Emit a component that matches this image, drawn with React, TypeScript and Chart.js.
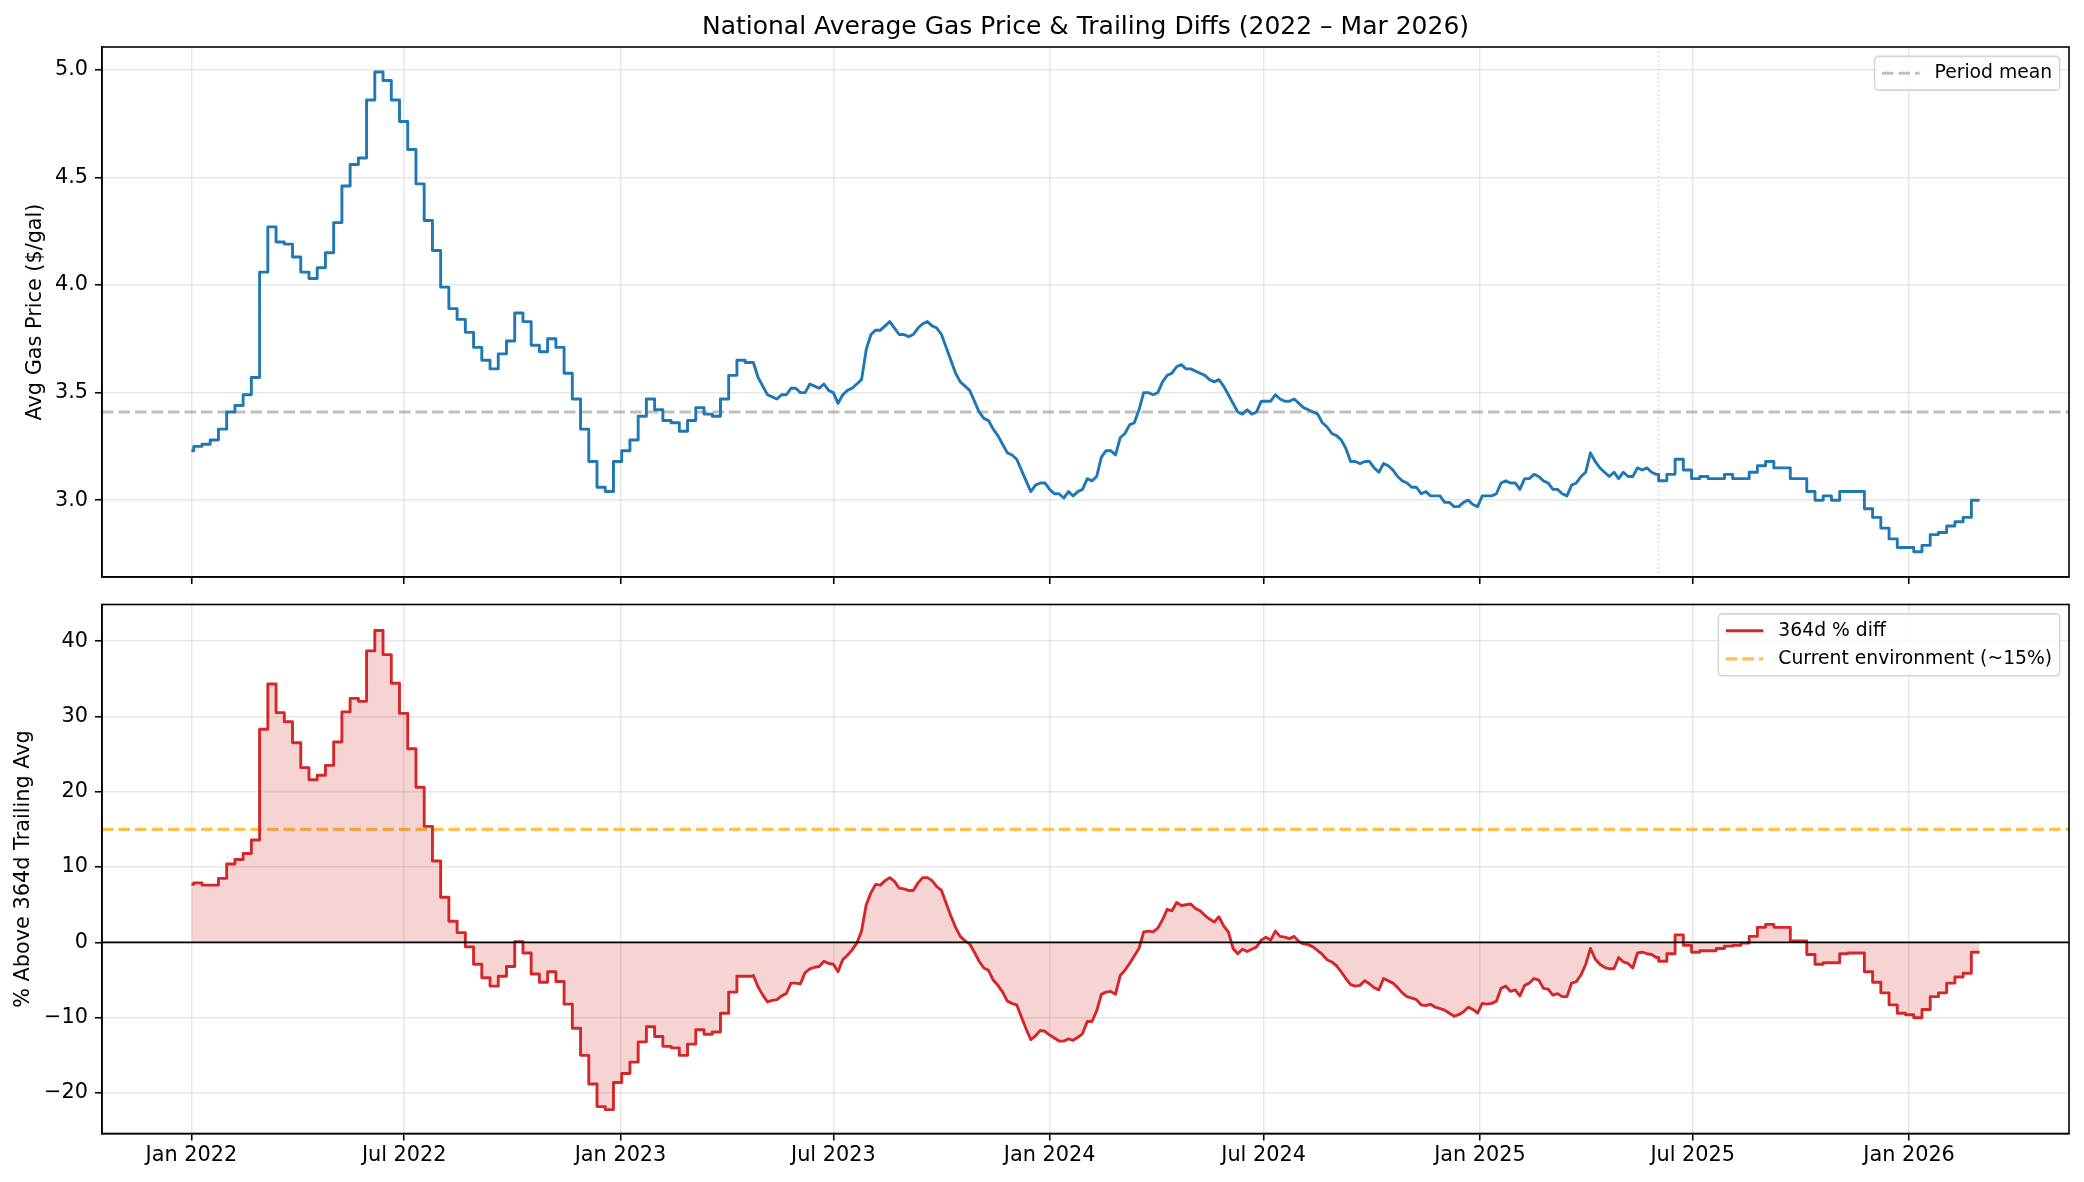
import { useEffect, useRef } from "react"
import { Chart, registerables } from "chart.js"

Chart.register(...registerables)

const FONT = "'DejaVu Sans', sans-serif"
const GRID = "rgba(176, 176, 176, 0.3)"

// x axis ticks
const tickDates = [
  "2022-01-01", "2022-07-01", "2023-01-01", "2023-07-01", "2024-01-01",
  "2024-07-01", "2025-01-01", "2025-07-01", "2026-01-01",
]
const tickLabels = [
  "Jan 2022", "Jul 2022", "Jan 2023", "Jul 2023", "Jan 2024",
  "Jul 2024", "Jan 2025", "Jul 2025", "Jan 2026",
]

// sampling of the series: first value on Jan 1 2022, then weekly (Mondays) until Apr 2023,
// every 4 days until end of May 2025, weekly again from Jun 2 2025
const firstDate = "2022-01-01"
const weeklyStart2022 = "2022-01-03"
const midStart = "2023-04-24"
const midStepDays = 4
const weeklyStart2025 = "2025-06-02"

// avg gas price ($/gal)
const priceEarly = [
  3.23, 3.25, 3.26, 3.28, 3.33, 3.41, 3.44, 3.49, 3.57, 4.06,
  4.27, 4.20, 4.19, 4.13, 4.06, 4.03, 4.08, 4.15, 4.29, 4.46,
  4.56, 4.59, 4.86, 4.99, 4.95, 4.86, 4.76, 4.63, 4.47, 4.30,
  4.16, 3.99, 3.89, 3.84, 3.78, 3.71, 3.65, 3.61, 3.68, 3.74,
  3.87, 3.83, 3.72, 3.69, 3.75, 3.71, 3.59, 3.47, 3.33, 3.18,
  3.06, 3.04, 3.18, 3.23, 3.28, 3.39, 3.47, 3.42, 3.37, 3.36,
  3.32, 3.37, 3.43, 3.40, 3.39, 3.47, 3.58, 3.65, 3.64,
]
const priceMid = [
  3.64, 3.57, 3.53, 3.49, 3.48, 3.47, 3.49, 3.49, 3.52, 3.52,
  3.50, 3.50, 3.54, 3.53, 3.52, 3.54, 3.51, 3.50, 3.45, 3.49,
  3.51, 3.52, 3.54, 3.56, 3.70, 3.77, 3.79, 3.79, 3.81, 3.83,
  3.80, 3.77, 3.77, 3.76, 3.77, 3.80, 3.82, 3.83, 3.81, 3.80,
  3.77, 3.71, 3.65, 3.59, 3.55, 3.53, 3.51, 3.46, 3.41, 3.38,
  3.37, 3.33, 3.30, 3.26, 3.22, 3.21, 3.19, 3.14, 3.09, 3.04,
  3.07, 3.08, 3.08, 3.05, 3.03, 3.03, 3.01, 3.04, 3.02, 3.04,
  3.05, 3.10, 3.09, 3.11, 3.20, 3.23, 3.23, 3.21, 3.29, 3.31,
  3.35, 3.36, 3.42, 3.50, 3.50, 3.49, 3.50, 3.55, 3.58, 3.59,
  3.62, 3.63, 3.61, 3.61, 3.60, 3.59, 3.58, 3.56, 3.55, 3.56,
  3.53, 3.49, 3.45, 3.41, 3.40, 3.42, 3.40, 3.41, 3.46, 3.46,
  3.46, 3.49, 3.47, 3.46, 3.46, 3.47, 3.45, 3.43, 3.42, 3.41,
  3.40, 3.36, 3.34, 3.31, 3.30, 3.28, 3.24, 3.18, 3.18, 3.17,
  3.18, 3.18, 3.15, 3.13, 3.17, 3.16, 3.14, 3.11, 3.09, 3.08,
  3.06, 3.06, 3.03, 3.04, 3.02, 3.02, 3.02, 2.99, 2.99, 2.97,
  2.97, 2.99, 3.00, 2.98, 2.97, 3.02, 3.02, 3.02, 3.03, 3.08,
  3.09, 3.08, 3.08, 3.05, 3.10, 3.10, 3.12, 3.11, 3.09, 3.08,
  3.05, 3.05, 3.03, 3.02, 3.07, 3.08, 3.11, 3.13, 3.22, 3.18,
  3.15, 3.13, 3.11, 3.13, 3.10, 3.13, 3.11, 3.11, 3.15, 3.14,
  3.15, 3.13, 3.12,
]
const priceLate = [
  3.09, 3.12, 3.19, 3.14, 3.10, 3.11, 3.10, 3.10, 3.12, 3.10,
  3.10, 3.13, 3.16, 3.18, 3.15, 3.15, 3.10, 3.10, 3.04, 3.00,
  3.02, 3.00, 3.04, 3.04, 3.04, 2.96, 2.92, 2.87, 2.82, 2.78,
  2.78, 2.76, 2.79, 2.84, 2.85, 2.88, 2.90, 2.92, 3.00, 3.00,
]

// % above 364d trailing average
const diffEarly = [
  7.7, 7.9, 7.6, 7.6, 8.5, 10.4, 11.0, 11.8, 13.6, 28.3,
  34.3, 30.5, 29.3, 26.5, 23.2, 21.6, 22.2, 23.5, 26.6, 30.6,
  32.4, 32.0, 38.7, 41.4, 38.2, 34.4, 30.4, 25.7, 20.6, 15.4,
  10.8, 6.0, 2.8, 1.3, -0.6, -2.9, -4.7, -5.8, -4.5, -3.2,
  0.1, -1.4, -4.2, -5.3, -3.9, -5.2, -8.2, -11.4, -15.0, -18.8,
  -21.8, -22.2, -18.6, -17.4, -15.9, -13.2, -11.2, -12.5, -13.8, -14.0,
  -15.0, -13.5, -11.6, -12.2, -11.9, -9.4, -6.6, -4.5, -4.5,
]
const diffMid = [
  -4.4, -5.9, -7.0, -7.9, -7.7, -7.6, -7.1, -6.8, -5.4, -5.4,
  -5.5, -4.0, -3.5, -3.3, -3.2, -2.5, -2.8, -2.9, -3.9, -2.3,
  -1.7, -1.0, -0.1, 1.5, 5.0, 6.6, 7.7, 7.6, 8.2, 8.6,
  8.1, 7.2, 7.1, 6.9, 6.9, 7.9, 8.6, 8.6, 8.2, 7.4,
  6.9, 5.2, 3.5, 2.0, 0.8, 0.2, -0.2, -1.3, -2.5, -3.4,
  -3.7, -5.0, -5.7, -6.6, -7.8, -8.1, -8.3, -9.9, -11.5, -12.9,
  -12.4, -11.7, -11.8, -12.3, -12.7, -13.1, -13.1, -12.8, -13.0, -12.6,
  -12.1, -10.5, -10.5, -9.1, -6.9, -6.6, -6.5, -6.9, -4.4, -3.7,
  -2.8, -1.8, -0.8, 1.4, 1.5, 1.4, 1.9, 3.0, 4.4, 4.2,
  5.3, 4.9, 5.0, 5.1, 4.5, 4.2, 3.6, 3.1, 2.7, 3.4,
  2.2, 1.4, -0.8, -1.5, -0.9, -1.2, -0.9, -0.6, 0.3, 0.7,
  0.3, 1.5, 0.8, 0.7, 0.5, 0.8, 0.1, -0.2, -0.3, -0.6,
  -1.1, -1.6, -2.3, -2.6, -3.1, -3.9, -4.8, -5.6, -5.8, -5.7,
  -5.1, -5.5, -6.0, -6.3, -4.8, -5.1, -5.4, -6.0, -6.7, -7.2,
  -7.4, -7.6, -8.3, -8.4, -8.2, -8.6, -8.8, -9.0, -9.4, -9.8,
  -9.6, -9.2, -8.6, -8.9, -9.4, -8.1, -8.2, -8.1, -7.8, -6.1,
  -5.8, -6.5, -6.3, -7.1, -5.7, -5.4, -4.8, -5.0, -6.1, -6.2,
  -7.0, -6.8, -7.2, -7.2, -5.4, -5.2, -4.3, -2.9, -0.8, -2.2,
  -2.9, -3.3, -3.5, -3.5, -2.0, -2.6, -2.8, -3.4, -1.4, -1.3,
  -1.5, -1.6, -2.0,
]
const diffLate = [
  -2.5, -1.5, 1.0, -0.4, -1.3, -1.1, -1.1, -0.8, -0.5, -0.4,
  -0.1, 0.8, 2.0, 2.4, 2.0, 2.0, 0.2, 0.2, -1.6, -2.9,
  -2.7, -2.7, -1.5, -1.4, -1.4, -3.9, -5.3, -6.7, -8.3, -9.4,
  -9.6, -10.0, -8.9, -7.2, -6.7, -5.4, -4.6, -4.1, -1.3, -1.3,
]

const periodMean = 3.41
const currentEnv = 15
const priceTicks = [3.0, 3.5, 4.0, 4.5, 5.0]
const diffTicks = [-20, -10, 0, 10, 20, 30, 40]
const priceRange = [2.643, 5.106]
const diffRange = [-25.37, 44.86]

const BLUE = "#1f77b4"
const RED = "#d62728"

const dayOf = (iso: string) =>
  Math.round((Date.parse(iso + "T00:00:00Z") - Date.parse(firstDate + "T00:00:00Z")) / 86400000)

const tickDays = tickDates.map(dayOf)
const lastDay = dayOf(weeklyStart2025) + 7 * (priceLate.length - 1)
const xMin = -0.05 * lastDay
const xMax = lastDay * 1.05

type Pt = { x: number; y: number }

// weekly values are held until the next reading (forward fill), so add the corner of each step
function holdSteps(pts: Pt[]) {
  const out: Pt[] = []
  pts.forEach((p, i) => {
    if (i > 0) out.push({ x: p.x, y: pts[i - 1].y })
    out.push(p)
  })
  return out
}

// one continuous series: weekly steps, then 4-day readings, then weekly steps again
function buildSeries(early: number[], mid: number[], late: number[]) {
  const e0 = dayOf(weeklyStart2022)
  const m0 = dayOf(midStart)
  const l0 = dayOf(weeklyStart2025)
  const a = [{ x: 0, y: early[0] }, ...early.slice(1).map((y, i) => ({ x: e0 + 7 * i, y }))]
  const b = mid.map((y, i) => ({ x: m0 + midStepDays * i, y }))
  const c = late.map((y, i) => ({ x: l0 + 7 * i, y }))
  const head = holdSteps([...a, b[0]])
  const tail = holdSteps([b[b.length - 1], ...c])
  return [...head, ...b.slice(1, -1), ...tail]
}

// titles, frame, legend and the dotted marker, drawn like matplotlib does
const decorPlugin = {
  id: "decor",
  beforeDatasetsDraw(chart: any, _args: any, opts: any) {
    if (opts.markerDay == null) return
    const { ctx, chartArea: a, scales } = chart
    const x = scales.x.getPixelForValue(opts.markerDay)
    ctx.save()
    ctx.strokeStyle = "rgba(128,128,128,0.35)"
    ctx.lineWidth = 1.6
    ctx.setLineDash([1.6, 2.7])
    ctx.beginPath()
    ctx.moveTo(x, a.top)
    ctx.lineTo(x, a.bottom)
    ctx.stroke()
    ctx.restore()
  },
  afterDraw(chart: any, _args: any, opts: any) {
    const { ctx, chartArea: a } = chart
    ctx.save()
    ctx.strokeStyle = "#000"
    ctx.lineWidth = 1.6
    ctx.strokeRect(a.left, a.top, a.right - a.left, a.bottom - a.top)

    ctx.fillStyle = "#000"
    if (opts.title) {
      ctx.font = `25px ${FONT}`
      ctx.textAlign = "center"
      ctx.textBaseline = "alphabetic"
      ctx.fillText(opts.title, (a.left + a.right) / 2, a.top - 13.4)
    }
    if (opts.yTitle) {
      ctx.save()
      ctx.font = `20.8px ${FONT}`
      ctx.textAlign = "center"
      ctx.textBaseline = "middle"
      ctx.translate(opts.yTitleX, (a.top + a.bottom) / 2)
      ctx.rotate(-Math.PI / 2)
      ctx.fillText(opts.yTitle, 0, 0)
      ctx.restore()
    }
    const items = opts.legend || []
    if (items.length) {
      const fs = 18.75
      ctx.font = `${fs}px ${FONT}`
      const textW = Math.max(...items.map((it: any) => ctx.measureText(it.label).width))
      const pad = 0.4 * fs
      const handle = 2 * fs
      const gap = 0.8 * fs
      const spacing = 0.5 * fs
      const w = pad * 2 + handle + gap + textW
      const h = pad * 2 + items.length * fs + (items.length - 1) * spacing
      const x = a.right - 0.5 * fs - w
      const y = a.top + 0.5 * fs
      ctx.beginPath()
      ctx.roundRect(x, y, w, h, 0.2 * fs)
      ctx.fillStyle = "rgba(255,255,255,0.8)"
      ctx.fill()
      ctx.strokeStyle = "#d6d6d6"
      ctx.lineWidth = 1.6
      ctx.stroke()
      items.forEach((it: any, i: number) => {
        const cy = y + pad + fs / 2 + i * (fs + spacing)
        ctx.beginPath()
        ctx.strokeStyle = it.color
        ctx.lineWidth = it.width
        ctx.setLineDash(it.dash || [])
        ctx.moveTo(x + pad, cy)
        ctx.lineTo(x + pad + handle, cy)
        ctx.stroke()
        ctx.setLineDash([])
        ctx.fillStyle = "#000"
        ctx.textAlign = "left"
        ctx.textBaseline = "middle"
        ctx.fillText(it.label, x + pad + handle + gap, cy)
      })
    }
    ctx.restore()
  },
}

function xScale(showLabels: boolean, height: number) {
  return {
    type: "linear",
    min: xMin,
    max: xMax,
    afterBuildTicks: (s: any) => {
      s.ticks = tickDays.map((value) => ({ value }))
    },
    afterFit: (s: any) => {
      s.height = height
      s.paddingLeft = 0
      s.paddingRight = 0
    },
    ticks: {
      display: showLabels,
      callback: (_v: any, i: number) => tickLabels[i],
      font: { family: FONT, size: 20.8 },
      color: "#000",
      padding: 3,
      maxRotation: 0,
      autoSkip: false,
    },
    grid: { color: GRID, lineWidth: 1.5, tickColor: "#000", tickWidth: 1.6, tickLength: 7 },
    border: { display: true, color: "#000", width: 1.6 },
  }
}

function yScale(range: number[], ticks: number[], fmt: (v: number) => string) {
  return {
    type: "linear",
    min: range[0],
    max: range[1],
    afterBuildTicks: (s: any) => {
      s.ticks = ticks.map((value) => ({ value }))
    },
    afterFit: (s: any) => {
      // fixed axis width, and no extra room reserved for half tick labels
      s.width = 102
      s.paddingTop = 0
      s.paddingBottom = 0
    },
    ticks: {
      callback: (v: any) => fmt(Number(v)),
      font: { family: FONT, size: 20.8 },
      color: "#000",
      padding: 7,
    },
    grid: { color: GRID, lineWidth: 1.5, tickColor: "#000", tickWidth: 1.6, tickLength: 7 },
    border: { display: true, color: "#000", width: 1.6 },
  }
}

export default function App() {
  const topRef = useRef<HTMLCanvasElement>(null)
  const bottomRef = useRef<HTMLCanvasElement>(null)

  useEffect(() => {
    if (!topRef.current || !bottomRef.current) return
    const price = buildSeries(priceEarly, priceMid, priceLate)
    const diff = buildSeries(diffEarly, diffMid, diffLate)

    const top = new Chart(topRef.current, {
      type: "line",
      data: {
        datasets: [
          {
            data: price,
            borderColor: BLUE,
            borderWidth: 2.9,
            borderJoinStyle: "round",
            pointRadius: 0,
            order: 1,
          },
          {
            data: [{ x: xMin, y: periodMean }, { x: xMax, y: periodMean }],
            borderColor: "rgba(128,128,128,0.5)",
            borderWidth: 3.1,
            borderDash: [11.5, 5],
            pointRadius: 0,
            order: 2,
          },
        ],
      } as any,
      options: {
        animation: false,
        responsive: true,
        maintainAspectRatio: false,
        events: [],
        layout: { padding: { top: 47, right: 15, bottom: 0, left: 0 } },
        scales: {
          x: xScale(false, 13),
          y: yScale(priceRange, priceTicks, (v) => v.toFixed(1)),
        } as any,
        plugins: {
          legend: { display: false },
          tooltip: { enabled: false },
          decor: {
            title: "National Average Gas Price & Trailing Diffs (2022 \u2013 Mar 2026)",
            yTitle: "Avg Gas Price ($/gal)",
            yTitleX: 35.5,
            markerDay: dayOf(weeklyStart2025),
            legend: [
              { label: "Period mean", color: "rgba(128,128,128,0.5)", width: 3.1, dash: [11.5, 5] },
            ],
          },
        } as any,
      },
      plugins: [decorPlugin],
    })

    const bottom = new Chart(bottomRef.current, {
      type: "line",
      data: {
        datasets: [
          {
            data: diff,
            borderColor: RED,
            borderWidth: 2.9,
            borderJoinStyle: "round",
            backgroundColor: "rgba(214,39,40,0.2)",
            fill: "origin",
            pointRadius: 0,
            order: 1,
          },
          {
            data: [{ x: xMin, y: 0 }, { x: xMax, y: 0 }],
            borderColor: "#000",
            borderWidth: 1.6,
            pointRadius: 0,
            order: 0,
          },
          {
            data: [{ x: xMin, y: currentEnv }, { x: xMax, y: currentEnv }],
            borderColor: "rgba(255,165,0,0.7)",
            borderWidth: 3.1,
            borderDash: [11.5, 5],
            pointRadius: 0,
            order: 2,
          },
        ],
      } as any,
      options: {
        animation: false,
        responsive: true,
        maintainAspectRatio: false,
        events: [],
        layout: { padding: { top: 14.5, right: 15, bottom: 0, left: 0 } },
        scales: {
          x: xScale(true, 48.5),
          y: yScale(diffRange, diffTicks, (v) => (v < 0 ? "\u2212" + Math.abs(v) : String(v))),
        } as any,
        plugins: {
          legend: { display: false },
          tooltip: { enabled: false },
          decor: {
            yTitle: "% Above 364d Trailing Avg",
            yTitleX: 24,
            legend: [
              { label: "364d % diff", color: RED, width: 2.9 },
              { label: "Current environment (~15%)", color: "rgba(255,165,0,0.7)", width: 3.1, dash: [11.5, 5] },
            ],
          },
        } as any,
      },
      plugins: [decorPlugin],
    })

    return () => {
      top.destroy()
      bottom.destroy()
    }
  }, [])

  return (
    <div style={{ position: "fixed", left: 0, top: 0, width: 2084, height: 1182, background: "#fff" }}>
      <div style={{ position: "absolute", left: 0, top: 0, width: 2084, height: 590 }}>
        <canvas ref={topRef}></canvas>
      </div>
      <div style={{ position: "absolute", left: 0, top: 590, width: 2084, height: 592 }}>
        <canvas ref={bottomRef}></canvas>
      </div>
    </div>
  )
}
